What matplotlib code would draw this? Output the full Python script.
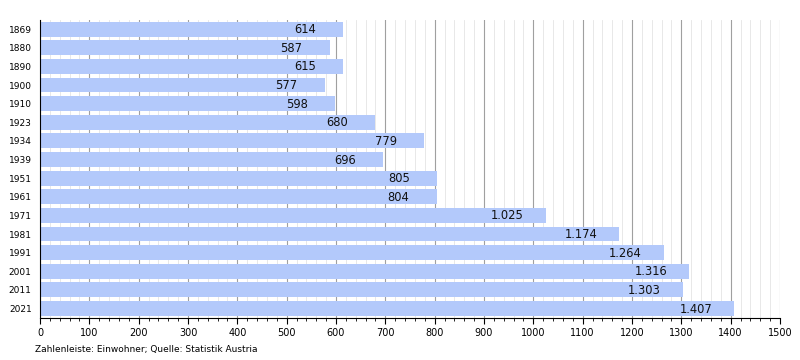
import numpy as np
import matplotlib.pyplot as plt
from matplotlib.ticker import MultipleLocator

# ============================================================
# DATA
# ============================================================

years = ["1869", "1880", "1890", "1900", "1910", "1923", "1934", "1939",
         "1951", "1961", "1971", "1981", "1991", "2001", "2011", "2021"]
population = [614, 587, 615, 577, 598, 680, 779, 696,
              805, 804, 1025, 1174, 1264, 1316, 1303, 1407]

footnote = "Zahlenleiste: Einwohner; Quelle: Statistik Austria"


def fmt(v):
    # German thousands separator
    return f"{v:,}".replace(",", ".")


# ============================================================
# PLOT
# ============================================================

fig = plt.figure(figsize=(8, 3.6), dpi=100)
ax = fig.add_axes([0.05, 0.117, 0.925, 0.828])

y = np.arange(len(years))

ax.barh(y, population, height=0.8, color="#b3c9fb", zorder=2)

for yi, v in zip(y, population):
    ax.annotate(fmt(v), xy=(v, yi), xytext=(-27.5, -0.4),
                textcoords="offset points", ha="center", va="center",
                fontsize=8.3, color="#111111", zorder=3)

ax.set_xlim(0, 1500)
ax.set_ylim(len(years) - 0.5, -0.5)

ax.xaxis.set_major_locator(MultipleLocator(100))
ax.xaxis.set_minor_locator(MultipleLocator(20))
ax.grid(which="major", axis="x", color="#a0a0a0", linewidth=0.8, zorder=0)
ax.grid(which="minor", axis="x", color="#e4e4e4", linewidth=0.6, zorder=0)
ax.set_axisbelow(True)

ax.set_yticks(y)
ax.set_yticklabels(years, fontsize=6.5)
ax.tick_params(axis="y", length=0, pad=6)
ax.tick_params(axis="x", which="major", length=4, labelsize=7, pad=3)
ax.tick_params(axis="x", which="minor", length=2)

for s in ["top", "right"]:
    ax.spines[s].set_visible(False)
ax.spines["left"].set_color("black")
ax.spines["bottom"].set_color("black")

fig.text(0.044, 0.03, footnote, fontsize=6.5, ha="left", va="center")

plt.savefig("out.png", dpi=100)
